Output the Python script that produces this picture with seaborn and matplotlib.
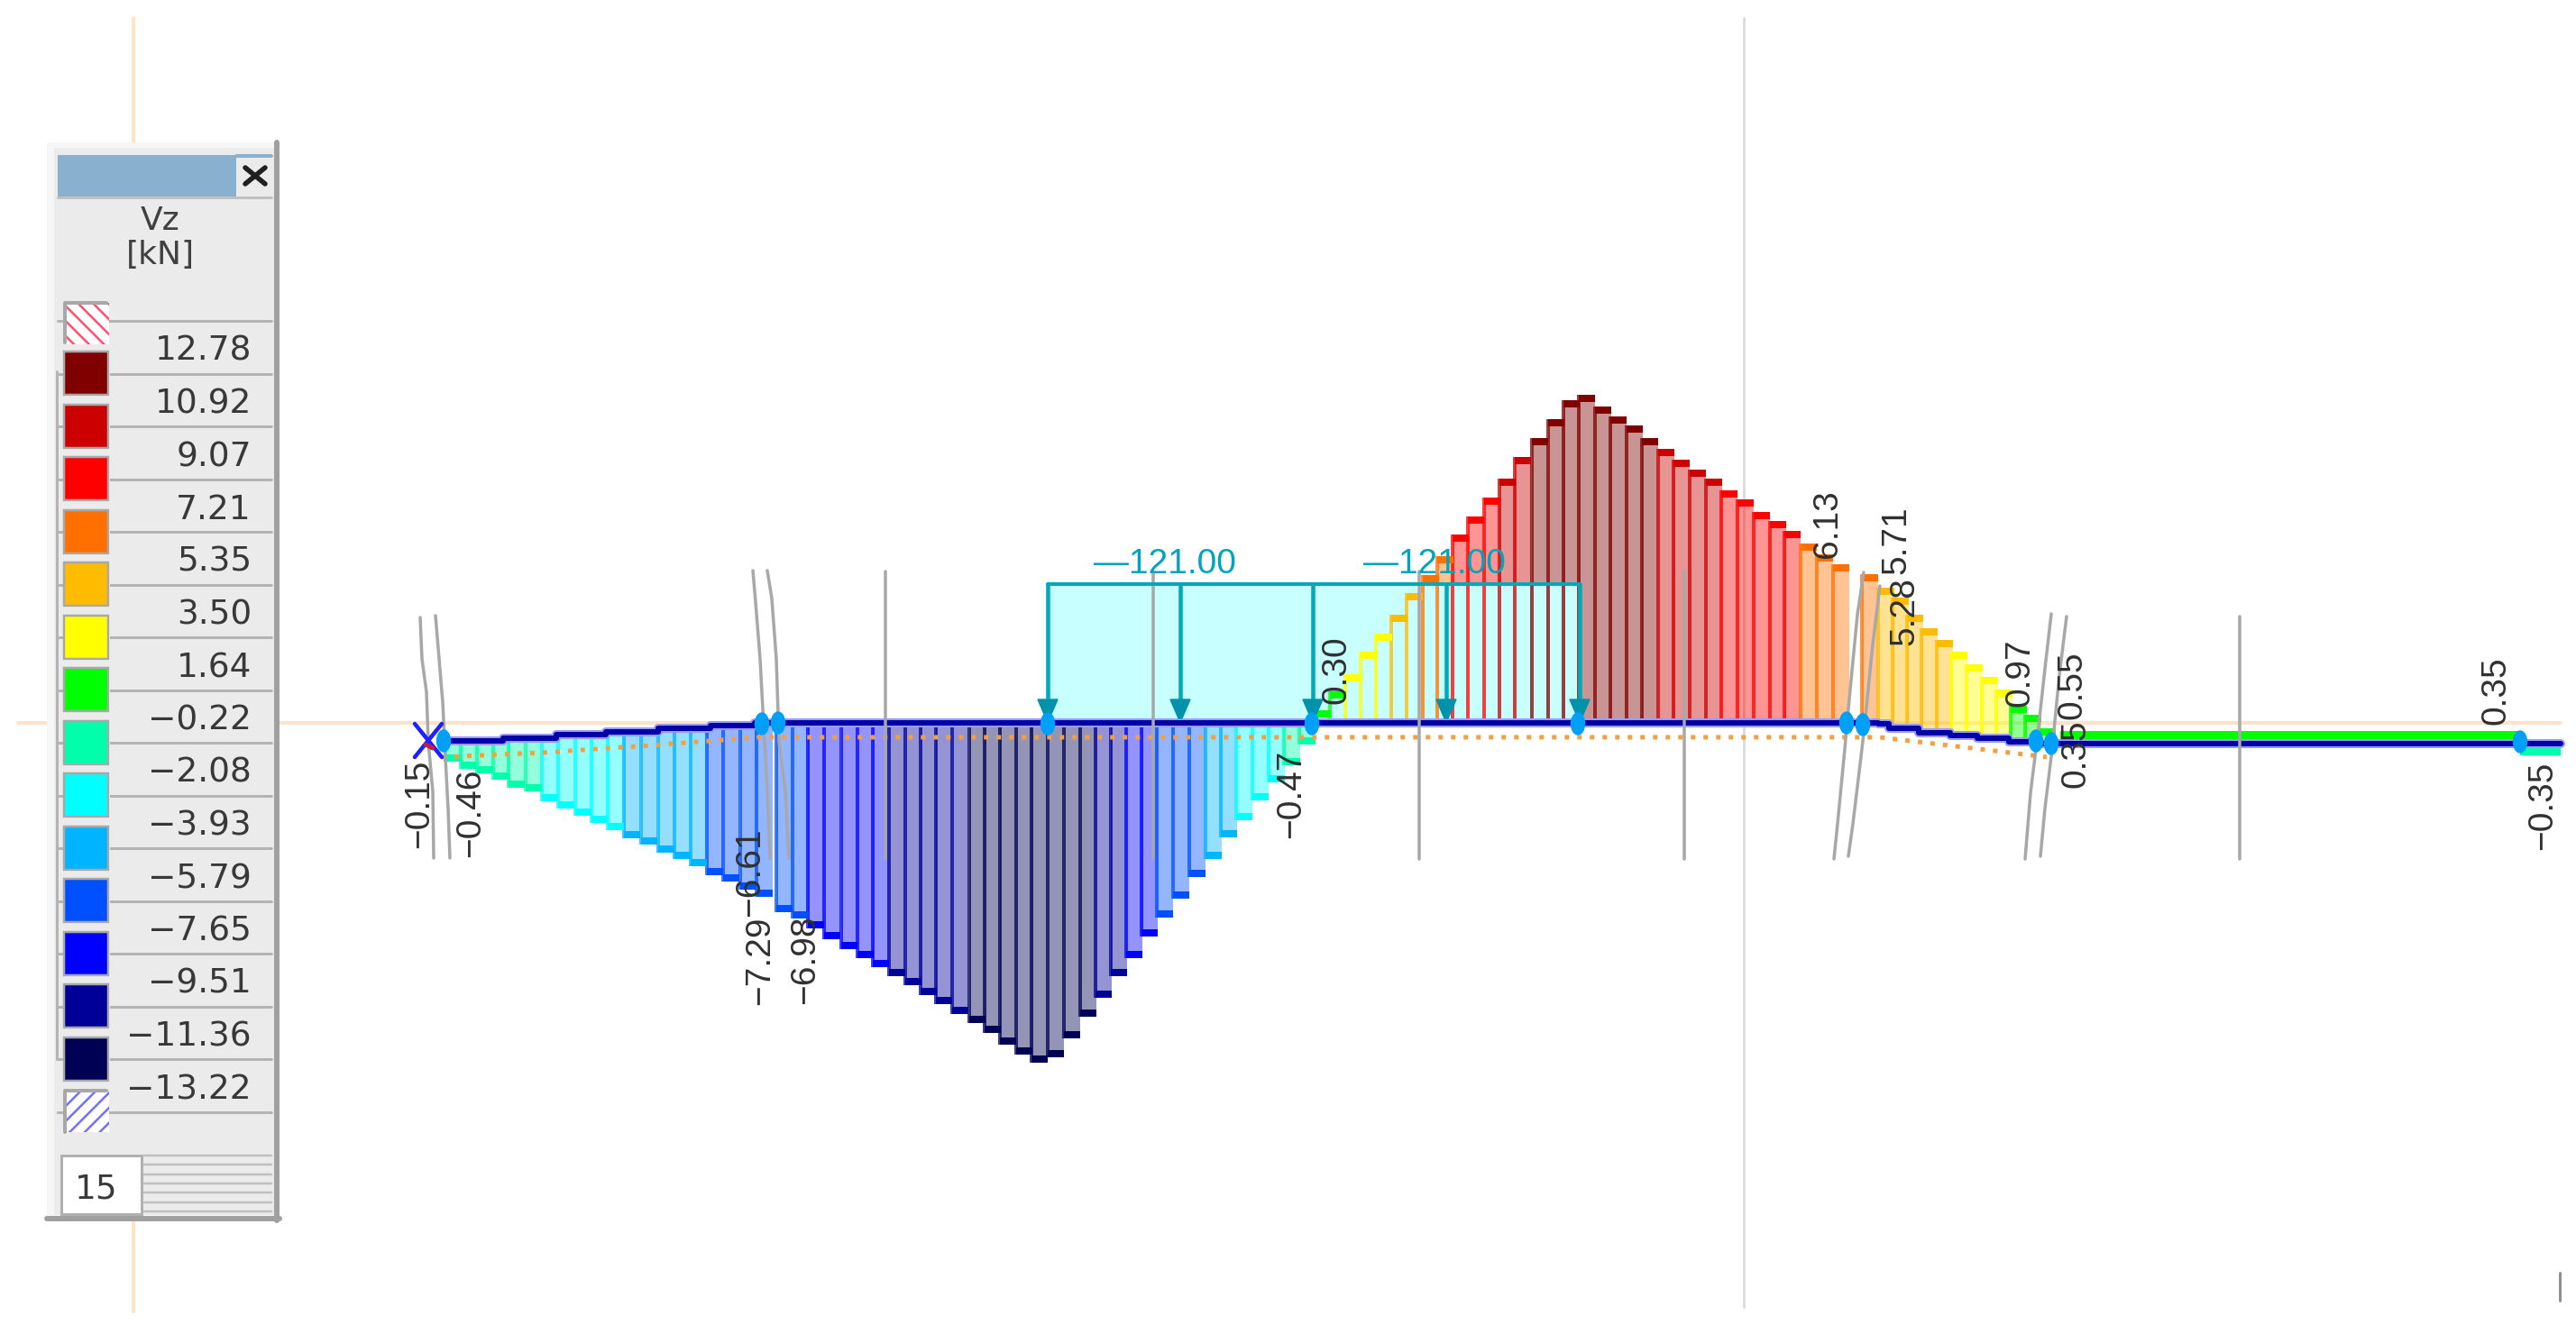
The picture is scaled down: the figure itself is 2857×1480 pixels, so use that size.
import matplotlib
matplotlib.use('Agg')
import matplotlib.pyplot as plt
from matplotlib.patches import Rectangle, Ellipse, Polygon
import seaborn as sns
import pandas as pd
import numpy as np

# result stations along the member [cm] and envelope values [kN]
stations = [0, 17, 35, 53, 70, 89, 107, 125, 144, 162, 180, 198, 217, 236, 254, 272, 290, 308, 327, 345,
            367, 385, 402, 420, 439, 457, 474, 492, 510, 527, 544, 562, 581, 598, 615, 633, 650,
            668, 686, 704, 721, 738, 755, 772, 789, 807, 825, 843, 860, 877, 895, 913, 930, 947,
            964, 981, 998, 1015, 1032, 1049, 1066, 1084, 1100, 1117, 1134, 1152, 1169, 1186, 1205, 1223,
            1240, 1257, 1275, 1292, 1310, 1327, 1345, 1362, 1380, 1398, 1415, 1433, 1451, 1469, 1485,
            1503, 1521, 1539, 1571, 1589, 1605, 1621, 1637, 1654, 1670, 1687, 1704, 1720, 1736, 1752, 1768]
vz = [-1.51, -1.80, -1.98, -2.21, -2.54, -2.68, -3.05, -3.32, -3.61, -3.88, -4.17, -4.49, -4.73, -5.04,
      -5.31, -5.57, -5.93, -6.19, -6.48, -6.77, -7.36, -7.63, -8.00, -8.41, -8.80, -9.15, -9.50, -9.87,
      -10.22, -10.60, -10.96, -11.33, -11.68, -12.06, -12.53, -12.91, -13.22,
      -13.00, -12.27, -11.45, -10.69, -9.87, -9.15, -8.33, -7.57, -6.85, -6.01, -5.31, -4.47, -3.79,
      -3.03, -2.30, -1.65, -0.85,
      0.49, 1.24, 1.89, 2.77, 3.47, 4.21, 5.05, 5.75, 6.49, 7.34, 8.05, 8.78, 9.51, 10.36, 11.09, 11.82,
      12.56, 12.78, 12.33, 11.94, 11.57, 11.09, 10.65, 10.25, 9.87, 9.52, 9.05, 8.69, 8.22, 7.85, 7.46,
      6.99, 6.56, 6.16, 5.80, 5.27, 4.87, 4.22, 3.69, 3.23, 2.77, 2.28, 1.80, 1.30, 0.67, 0.32, -0.21]

# member axis, drawn as steps because the slope is rasterised
beam_x = [-13, 55, 114, 169, 227, 285, 334, 1580, 1592, 1625, 1660, 1690, 1725, 1754, 2337]
beam_y = [-0.70, -0.60, -0.46, -0.35, -0.22, -0.10, 0.0, -0.05, -0.21, -0.37, -0.50, -0.60, -0.73, -0.79, -0.79]

# dotted reference line under the member
dotted_x = [-13, 97, 217, 337, 1582, 1767]
dotted_y = [-1.33, -1.16, -0.88, -0.56, -0.56, -1.33]

# flat end spans
flat_x = [1782, 2292]
flat_top = [-0.32, -0.32]
flat_bottom = [-0.79, -0.79]
tail_x = [2292, 2337]
tail_top = [-0.79, -0.79]
tail_bottom = [-1.26, -1.26]

# legend
levels = [12.78, 10.92, 9.07, 7.21, 5.35, 3.50, 1.64, -0.22, -2.08, -3.93, -5.79, -7.65, -9.51, -11.36, -13.22]
level_colors = ['#800000', '#cc0000', '#ff0000', '#ff7000', '#ffbb00', '#ffff00', '#00ff00', '#00ffaa',
                '#00ffff', '#00b4ff', '#0050ff', '#0000ff', '#000099', '#000055']

# line load
load_x = [657, 1249]
load_top = 5.40
load_label = '\u2014121.00'

# result labels: text, centre x, centre y [px]
value_labels = [('\u22120.15', 465, 892), ('\u22120.46', 522, 902), ('\u22126.61', 832, 968),
                ('\u22127.29', 843, 1066), ('\u22126.98', 893, 1065), ('\u22120.47', 1432, 881),
                ('0.30', 1482, 743), ('6.13', 2027, 581), ('5.71', 2103, 599), ('5.28', 2112, 678),
                ('0.97', 2240, 746), ('0.55', 2298, 760), ('0.35', 2303, 836), ('0.35', 2768, 766),
                ('\u22120.35', 2820, 894)]

PX_PER_KN = 28.5
X0, Y0 = 503, 802
W, H = 2857, 1480

sns.set_style('white')
plt.rcParams['font.family'] = ['Liberation Sans', 'DejaVu Sans']

fig = plt.figure(figsize=(W / 100, H / 100), dpi=100)
ax = fig.add_axes([0, 0, 1, 1])
px = lambda v: v * 0.72  # line widths are read in pixels

# background guide lines go first, under the diagram
ax.set_axis_off()
bg = fig.add_axes([0, 0, 1, 1], zorder=-1)
bg.set_xlim(0, W)
bg.set_ylim(H, 0)
bg.set_axis_off()
bg.plot([20, 2840], [802, 802], color='#ffe3c8', lw=px(4))
bg.plot([148, 148], [20, 1455], color='#ffe3c8', lw=px(4))
bg.plot([1934, 1934], [20, 1450], color='#dcdcdc', lw=px(3))
bg.plot([2839, 2839], [1412, 1443], color='#909090', lw=px(3))

df = pd.DataFrame({'station': stations, 'vz': vz})
df['beam'] = np.array(beam_y)[np.searchsorted(beam_x, df['station'], side='right') - 1]
df['net'] = df['vz'] - df['beam']
bin_idx = np.clip(np.digitize(df['net'], levels[::-1]) - 1, 0, len(level_colors) - 1)
df['color'] = [level_colors[::-1][i] for i in bin_idx]
df['sign'] = np.sign(df['net'])
df['cap'] = df['sign'] * 0.28

bar_w = 17.9 / np.min(np.diff(stations))

sns.barplot(data=df, x='station', y='net', native_scale=True, errorbar=None, color='#888888',
            width=bar_w, bottom=df['beam'], linewidth=0, zorder=2, ax=ax)
for patch, c in zip(ax.patches, df['color']):
    patch.set_facecolor(matplotlib.colors.to_rgba(c, 0.42))

# load block hides the bar tint, the bar ribs stay on top of it
ax.add_patch(Rectangle((load_x[0], 0), load_x[1] - load_x[0], load_top, facecolor='#c8ffff',
                       edgecolor='none', zorder=2.5))

ax.vlines(df['station'] - 8.85, df['beam'], df['vz'], colors=[matplotlib.colors.to_rgba(c, 0.75) for c in df['color']],
          lw=px(4), zorder=3)

# top caps of the bars
n_before = len(ax.patches)
sns.barplot(data=df, x='station', y='cap', native_scale=True, errorbar=None, color='#888888',
            width=bar_w, bottom=df['vz'] - df['cap'], linewidth=0, zorder=3.2, ax=ax)
for patch, c in zip(ax.patches[n_before:], df['color']):
    patch.set_facecolor(c)

ax.fill_between(flat_x, flat_bottom, flat_top, color='#00ff00', lw=0, zorder=3)
ax.fill_between(tail_x, tail_bottom, tail_top, color='#00ffaa', lw=0, zorder=3)

sns.lineplot(x=dotted_x, y=dotted_y, sort=False, estimator=None, color='#f5a040', lw=px(5),
             linestyle=(0, (1, 1.8)), zorder=3.5, ax=ax)
sns.lineplot(x=beam_x, y=beam_y, sort=False, estimator=None, drawstyle='steps-post', color='#9a9aff',
             lw=px(10), zorder=3.6, ax=ax)
sns.lineplot(x=beam_x, y=beam_y, sort=False, estimator=None, drawstyle='steps-post', color='#0000a8',
             lw=px(6), zorder=3.7, ax=ax)

ax.set_xlim(-X0, W - X0)
ax.set_ylim(-(H - Y0) / PX_PER_KN, Y0 / PX_PER_KN)
ax.set_xlabel('')
ax.set_ylabel('')
ax.set_axis_off()

# overlay in pixels for supports, load arrows, texts and the colour panel
ov = fig.add_axes([0, 0, 1, 1], facecolor='none')
ov.set_xlim(0, W)
ov.set_ylim(H, 0)
ov.set_axis_off()

grey = '#a8a8a8'
for x in [982, 1279, 1574, 1868, 2484]:
    ov.plot([x, x], [684 if x == 2484 else 634, 953], color=grey, lw=px(3.5), zorder=2)
# columns with a slanted, rasterised edge
wavy = [
    ([466, 468, 473, 475, 480, 481], [685, 731, 768, 823, 878, 952]),
    ([483, 487, 491, 494, 497, 499], [683, 731, 779, 841, 897, 952]),
    ([835, 838, 843, 847, 851, 854], [633, 668, 731, 805, 878, 952]),
    ([851, 856, 861, 864, 871, 875], [633, 664, 731, 823, 878, 952]),
    ([2067, 2060, 2052, 2046, 2038, 2034], [635, 682, 765, 831, 914, 953]),
    ([2085, 2077, 2068, 2063, 2055, 2050], [650, 715, 805, 848, 914, 950]),
    ([2275, 2268, 2260, 2252, 2246], [681, 742, 815, 880, 953]),
    ([2292, 2284, 2276, 2268, 2263], [684, 749, 831, 897, 950]),
]
for xs, ys in wavy:
    ov.plot(xs, ys, color=grey, lw=px(3.5), zorder=2)

# load outline and arrows
teal = '#00a8b8'
ov.plot([1162, 1752], [648, 648], color=teal, lw=px(4), zorder=4)
for x in [1162, 1309, 1456, 1604, 1752]:
    ov.plot([x, x], [648, 780], color=teal, lw=px(4.5), zorder=4)
    ov.add_patch(Polygon([(x - 11, 776), (x + 11, 776), (x + 2, 797), (x - 2, 797)], color='#0092aa', zorder=4.2))

# nodes
for x, y in [(492, 822), (845, 803), (863, 802), (1162, 803), (1455, 803), (1750, 803), (2048, 802),
             (2066, 804), (2258, 822), (2275, 825), (2795, 823)]:
    ov.add_patch(Ellipse((x, y), 15, 24, color='#00a0f8', zorder=5))

# member start symbol
ov.plot([460, 490], [803, 840], color='#2020ff', lw=px(4.5), zorder=5)
ov.plot([460, 490], [840, 803], color='#2020ff', lw=px(4.5), zorder=5)
ov.plot([472, 480], [826, 830], color='#c02040', lw=px(5), zorder=5.1)

ov.text(1292, 626, load_label, color='#00a4bc', fontsize=28, ha='center', va='center', zorder=6)
ov.text(1591, 626, load_label, color='#00a4bc', fontsize=28, ha='center', va='center', zorder=6)
for label, x, y in value_labels:
    ov.text(x, y, label, color='#303030', fontsize=28, rotation=90, ha='center', va='center', zorder=6)

# colour panel
panel_font = ['DejaVu Sans']
ov.add_patch(Rectangle((52, 158), 258, 1196, facecolor='#f6f6f6', edgecolor='none', zorder=10))
ov.add_patch(Rectangle((60, 164), 244, 1184, facecolor='#ebebeb', edgecolor='none', zorder=10.1))
ov.plot([307, 307], [158, 1354], color='#a0a0a0', lw=px(6), zorder=10.2)
ov.plot([52, 310], [1352, 1352], color='#a0a0a0', lw=px(6), zorder=10.2)
ov.add_patch(Rectangle((64, 172), 198, 46, facecolor='#8ab0d0', edgecolor='none', zorder=10.3))
ov.plot([262, 301], [173, 173], color='#8ab0d0', lw=px(4), zorder=10.3)
ov.plot([64, 301], [219, 219], color='#c0c0c0', lw=px(3), zorder=10.3)
ov.plot([272, 294], [186, 204], color='#202020', lw=px(5.5), zorder=10.4)
ov.plot([272, 294], [204, 186], color='#202020', lw=px(5.5), zorder=10.4)
ov.text(178, 245, 'Vz', family=panel_font, fontsize=26, color='#404040', ha='center', va='center', zorder=11)
ov.text(178, 283, '[kN]', family=panel_font, fontsize=26, color='#404040', ha='center', va='center', zorder=11)

row = 58.5
ov.plot([63, 63], [412, 1175], color='#b4b4b4', lw=px(3), zorder=10.3)
for i, lev in enumerate(levels):
    y = 356 + row * i
    ov.plot([64, 301], [y, y], color='#b4b4b4', lw=px(3), zorder=10.3)
    ov.text(279, 390 + row * i, f'{lev:.2f}'.replace('-', '\u2212'), family=panel_font, fontsize=27,
            color='#383838', ha='right', va='center', zorder=11)
ov.plot([64, 301], [1234, 1234], color='#b4b4b4', lw=px(3), zorder=10.3)
for i, c in enumerate(level_colors):
    yc = 414 + row * i
    ov.add_patch(Rectangle((70, yc - 25), 52, 51, facecolor='#f8f8f8', edgecolor='none', zorder=10.5))
    ov.add_patch(Rectangle((71, yc - 24), 49, 48, facecolor=c, edgecolor='#a8a8a8', lw=px(2.5), zorder=10.6))

# out of range swatches
plt.rcParams['hatch.linewidth'] = px(2.5)
ov.add_patch(Rectangle((72, 336), 49, 46, facecolor='white', edgecolor='#ff5070', hatch='\\\\', lw=0, zorder=10.6))
ov.plot([72, 72, 118], [380, 336, 336], color='#a8a8a8', lw=px(4), zorder=10.7)
ov.add_patch(Rectangle((72, 1210), 49, 46, facecolor='white', edgecolor='#7070ff', hatch='//', lw=0, zorder=10.6))
ov.plot([72, 72, 118], [1256, 1210, 1210], color='#a8a8a8', lw=px(4), zorder=10.7)

# count box
ov.add_patch(Rectangle((68, 1282), 89, 65, facecolor='white', edgecolor='#b0b0b0', lw=px(3), zorder=10.5))
ov.text(107, 1319, '15', family=panel_font, fontsize=27, color='#383838', ha='center', va='center', zorder=11)
for y in [1282, 1292, 1303, 1313, 1323, 1334, 1344]:
    ov.plot([160, 301], [y, y], color='#c0c0c0', lw=px(2.5), zorder=10.5)

fig.savefig('out.png', dpi=100)
plt.close(fig)
